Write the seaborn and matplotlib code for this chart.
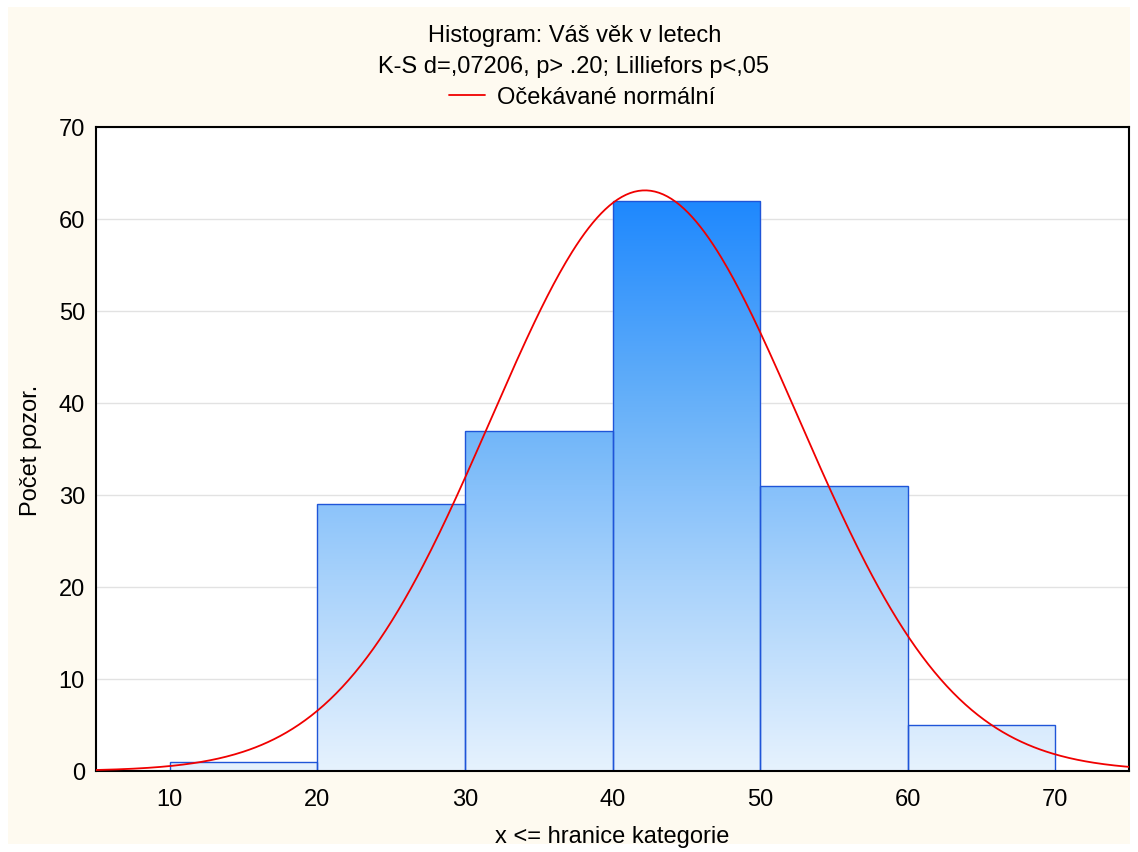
import numpy as np
import pandas as pd
import matplotlib
matplotlib.use("Agg")
import matplotlib.pyplot as plt
import seaborn as sns
from matplotlib.patches import Rectangle
from matplotlib.colors import LinearSegmentedColormap

# data
bin_edges = [10, 20, 30, 40, 50, 60, 70]
counts = [1, 29, 37, 62, 31, 5]
fit_mean = 42.2
fit_sd = 10.43
title_lines = ["Histogram: Váš věk v letech", "K-S d=,07206, p> .20; Lilliefors p<,05"]
legend_label = "Očekávané normální"
x_ticks = [10, 20, 30, 40, 50, 60, 70]
y_ticks = [0, 10, 20, 30, 40, 50, 60, 70]

sns.set_theme(style="white")
plt.rcParams['font.family'] = ['Liberation Sans', 'DejaVu Sans']
FS = 17

fig = plt.figure(figsize=(11.38, 8.53), dpi=100)
fig.patch.set_facecolor("white")
fig.patches.append(Rectangle((8/1138, 8/853), 1 - 16/1138, 1 - 16/853, transform=fig.transFigure,
                             facecolor="#FEFAF0", edgecolor="none", zorder=-10))
ax = fig.add_axes([96/1138, 1 - 772/853, (1129-96)/1138, (772-128)/853])
ax.set_facecolor("white")

centers = [(a + b) / 2 for a, b in zip(bin_edges[:-1], bin_edges[1:])]
df = pd.DataFrame({"x": centers, "w": counts})
sns.histplot(data=df, x="x", weights="w", bins=bin_edges, ax=ax,
             stat="count", element="bars", fill=True, linewidth=0)

cmap = LinearSegmentedColormap.from_list("g", ["#E6F2FE", "#A8D2FB", "#62AEF9", "#1E88FE"])
grad = np.linspace(0, 1, 256).reshape(-1, 1)
ymax_bar = max(counts)
for p in list(ax.patches):
    p.set_facecolor("none")
    x0, w, h = p.get_x(), p.get_width(), p.get_height()
    im = ax.imshow(grad, cmap=cmap, origin="lower", aspect="auto",
                   extent=(bin_edges[0], bin_edges[-1], 0, ymax_bar), zorder=1.5)
    clip = Rectangle((x0, 0), w, h, transform=ax.transData, facecolor="none")
    ax.add_patch(clip)
    im.set_clip_path(clip)
    ax.add_patch(Rectangle((x0, 0), w, h, facecolor="none", edgecolor="#1F55D8",
                           linewidth=1.0, zorder=2))

xs = np.linspace(5, 75, 500)
binw = bin_edges[1] - bin_edges[0]
ys = sum(counts) * binw / (fit_sd * np.sqrt(2 * np.pi)) * np.exp(-0.5 * ((xs - fit_mean) / fit_sd) ** 2)
sns.lineplot(x=xs, y=ys, ax=ax, color="#F00000", linewidth=1.3, zorder=3, label=legend_label, legend=False)

ax.set_xlim(5, 75)
ax.set_ylim(0, 70)
ax.set_xticks(x_ticks)
ax.set_yticks(y_ticks)
ax.yaxis.grid(True, color="#E2E2E2", linewidth=1)
ax.xaxis.grid(False)
ax.set_axisbelow(True)
for s in ax.spines.values():
    s.set_visible(True)
    s.set_color("black")
    s.set_linewidth(1.5)
ax.tick_params(axis="both", length=0, labelsize=FS, colors="black")
ax.tick_params(axis="x", pad=12)
ax.tick_params(axis="y", pad=8)
ax.set_xlabel("x <= hranice kategorie", fontsize=FS, color="black", va="center")
ax.set_ylabel("Počet pozor.", fontsize=FS, color="black", va="center")
ax.xaxis.set_label_coords((612 - 96) / 1033, (772 - 837) / 644)
ax.yaxis.set_label_coords((31 - 96) / 1033, 0.5)

fig.text(575/1138, 1 - 36/853, title_lines[0], ha="center", va="center", fontsize=FS, color="black")
fig.text(574/1138, 1 - 67/853, title_lines[1], ha="center", va="center", fontsize=FS, color="black")
h, l = ax.get_legend_handles_labels()
leg = fig.legend(h, l, loc="center", bbox_to_anchor=(582/1138, 1 - 98/853), frameon=False, fontsize=FS,
                 handlelength=1.5, handletextpad=0.5)
for t in leg.get_texts():
    t.set_color("black")

fig.savefig("out.png", dpi=100, facecolor=fig.get_facecolor())
